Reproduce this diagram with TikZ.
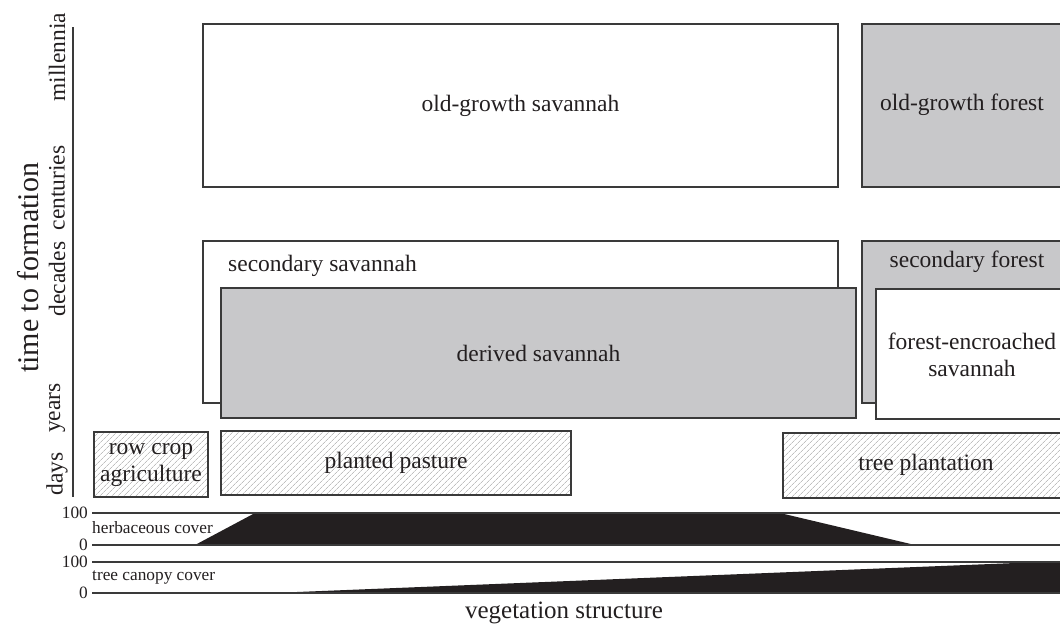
\documentclass[tikz,border=0pt]{standalone}
\usepackage{fontspec}
\setmainfont{Liberation Serif}
\usetikzlibrary{patterns.meta}
\definecolor{ink}{HTML}{231F20}
\definecolor{boxgray}{HTML}{C8C8CA}
\definecolor{edgegray}{HTML}{3A3A3A}
\tikzset{
  stagebox/.style={draw=edgegray,line width=1.1pt},
  greybox/.style={stagebox,fill=boxgray},
  hatchbox/.style={stagebox,pattern={Lines[angle=45,distance=4pt,line width=0.8pt]},pattern color=black!25},
  lbl/.style={text=ink,font=\fontsize{23.5}{27}\selectfont,align=center,inner sep=0pt},
  ticklbl/.style={lbl,rotate=90},
  small/.style={text=ink,font=\fontsize{17.3}{19}\selectfont,inner sep=0pt},
  covline/.style={draw=edgegray,line width=1.1pt}
}
\begin{document}
\begin{tikzpicture}[x=1pt,y=-1pt]
  \useasboundingbox (0,0) rectangle (1060,630);
  % time axis
  \coordinate (axtop) at (73,27);
  \coordinate (axbot) at (73,497);
  \draw[covline] (axtop) -- (axbot);
  \node[lbl,rotate=90,font=\fontsize{30}{34}\selectfont] (taxis) at (28,268) {time to formation};
  \node[ticklbl] (tdays) at (57,474) {days};
  \node[ticklbl] (tyears) at (57,408) {years};
  \node[ticklbl] (tdecades) at (57,279) {decades};
  \node[ticklbl] (tcent) at (57,188) {centuries};
  \node[ticklbl] (tmill) at (57,57) {millennia};
  % old-growth
  \draw[stagebox] (203,24) rectangle (838,187) node[pos=.5,lbl] (ogsav) {old-growth savannah};
  \draw[greybox] (862,24) rectangle (1075,187);
  \node[lbl] (ogfor) at (962,105) {old-growth forest};
  % secondary
  \draw[stagebox] (203,241) rectangle (838,403);
  \node[lbl,anchor=west] (secsav) at (228,266) {secondary savannah};
  \draw[greybox] (221,288) rectangle (856,418) node[pos=.5,lbl] (dersav) {derived savannah};
  \draw[greybox] (862,241) rectangle (1075,403);
  \node[lbl] (secfor) at (967,262) {secondary forest};
  \draw[stagebox,fill=white] (876,289) rectangle (1075,419);
  \node[lbl] (encsav) at (972,355) {forest-encroached\\savannah};
  % planted
  \draw[hatchbox] (94,432) rectangle (208,497) node[pos=.5,lbl] (rowcrop) {row crop\\agriculture};
  \draw[hatchbox] (221,431) rectangle (571,495) node[pos=.5,lbl] (pasture) {planted pasture};
  \draw[hatchbox] (783,433) rectangle (1075,498);
  \node[lbl] (treepl) at (926,465) {tree plantation};
  % cover bars
  \fill[ink] (195,545) -- (255,513) -- (780,513) -- (915,545) -- cycle;
  \fill[ink] (272,593) -- (1040,562) -- (1070,562) -- (1070,593) -- cycle;
  \foreach \yy/\tag/\val in {513/ht/100,545/hb/0,562/tt/100,593/tb/0}{
    \coordinate (\tag l) at (92,\yy);
    \coordinate (\tag r) at (1070,\yy);
    \draw[covline] (\tag l) -- (\tag r);
    \node[small,anchor=east] (\tag num) at (88,\yy) {\val};
  }
  \node[small,anchor=west] (herb) at (92,528) {herbaceous cover};
  \node[small,anchor=west] (canopy) at (92,577) {tree canopy cover};
  \node[lbl,font=\fontsize{25}{28}\selectfont] (vegaxis) at (564,613) {vegetation structure};
\end{tikzpicture}
\end{document}
